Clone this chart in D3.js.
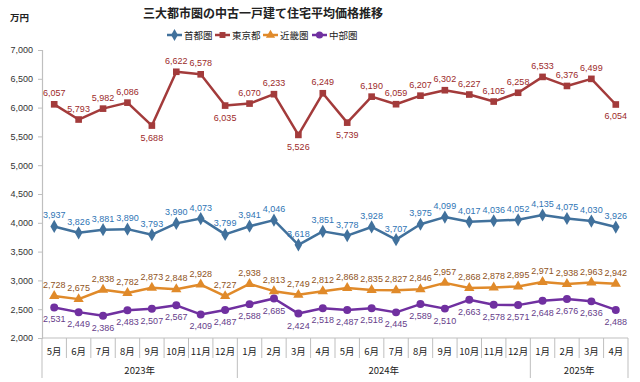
<!DOCTYPE html>
<html>
<head>
<meta charset="utf-8">
<script src="https://cdn.jsdelivr.net/npm/d3@7"></script>
<style>
  body { margin: 0; background: #fff; }
  svg { font-family: "Noto Sans CJK JP", "Liberation Sans", sans-serif; }
</style>
</head>
<body>
<svg id="chart" width="640" height="382"></svg>
<script>
var months = ["5月","6月","7月","8月","9月","10月","11月","12月",
  "1月","2月","3月","4月","5月","6月","7月","8月","9月","10月","11月","12月",
  "1月","2月","3月","4月"];
var years = [
  { label: "2023年", start: 0, count: 8 },
  { label: "2024年", start: 8, count: 12 },
  { label: "2025年", start: 20, count: 4 }
];
var shutoken = [3937,3826,3881,3890,3793,3990,4073,3799,3941,4046,3618,3851,3778,3928,3707,3975,4099,4017,4036,4052,4135,4075,4030,3926];
var tokyo = [6057,5793,5982,6086,5688,6622,6578,6035,6070,6233,5526,6249,5739,6190,6059,6207,6302,6227,6105,6258,6533,6376,6499,6054];
var kinki = [2728,2675,2838,2782,2873,2848,2928,2727,2938,2813,2749,2812,2868,2835,2827,2846,2957,2868,2878,2895,2971,2938,2963,2942];
var chubu = [2531,2449,2386,2483,2507,2567,2409,2487,2588,2685,2424,2518,2487,2518,2445,2589,2510,2663,2578,2571,2648,2676,2636,2488];
var yTicks = [2000,2500,3000,3500,4000,4500,5000,5500,6000,6500,7000];
// tokyo points whose label sits under the marker
var tokyoBelow = [4, 7, 10, 12, 23];

var series = [
  { name: "首都圏", values: shutoken, color: "#41719c", label: "#2f75b5", symbol: d3.symbolDiamond, size: 50, pos: "above" },
  { name: "東京都", values: tokyo, color: "#a33b3b", label: "#9c2a2a", symbol: d3.symbolSquare, size: 44, pos: "tokyo" },
  { name: "近畿圏", values: kinki, color: "#e08a2a", label: "#8f531c", symbol: d3.symbolTriangle, size: 46, pos: "above" },
  { name: "中部圏", values: chubu, color: "#7030a0", label: "#663d8a", symbol: d3.symbolCircle, size: 50, pos: "below" }
];

var svg = d3.select("#chart");
var plotLeft = 42, plotRight = 628, plotTop = 50, plotBottom = 338;

var x = d3.scaleBand().domain(d3.range(months.length)).range([plotLeft, plotRight]);
var y = d3.scaleLinear().domain([2000, 7000]).range([plotBottom, plotTop]);
var fmt = d3.format(",");

// title and unit
svg.append("text").attr("x", 263).attr("y", 18).attr("text-anchor", "middle")
  .attr("font-size", 12).attr("font-weight", "bold").attr("fill", "#222")
  .text("三大都市圏の中古一戸建て住宅平均価格推移");
svg.append("text").attr("x", 10).attr("y", 21)
  .attr("font-size", 9.5).attr("font-weight", "bold").attr("fill", "#222").text("万円");

// legend
var legendX = [167, 215, 263, 312];
var lg = svg.selectAll(".legend").data(series).enter().append("g")
  .attr("transform", function (d, i) { return "translate(" + legendX[i] + ",35)"; });
lg.append("line").attr("x1", 0).attr("x2", 15)
  .attr("stroke", function (d) { return d.color; }).attr("stroke-width", 2.5);
lg.append("path").attr("transform", "translate(7.5,0)")
  .attr("d", function (d) { return d3.symbol().type(d.symbol).size(d.size * 0.8)(); })
  .attr("fill", function (d) { return d.color; });
lg.append("text").attr("x", 17).attr("y", 3.5).attr("font-size", 9.5).attr("fill", "#222")
  .text(function (d) { return d.name; });

// y axis
var yAxis = svg.append("g").attr("transform", "translate(" + plotLeft + ",0)")
  .call(d3.axisLeft(y).tickValues(yTicks).tickSize(4).tickPadding(5).tickFormat(fmt));
yAxis.select(".domain").attr("stroke", "#bfbfbf").attr("stroke-width", 1.2);
yAxis.selectAll(".tick line").attr("stroke", "#bfbfbf");
yAxis.selectAll("text").attr("font-size", 9).attr("fill", "#333")
  .attr("font-family", "Liberation Sans, sans-serif");

// x axis: month band boundaries and year groups
svg.append("line").attr("x1", plotLeft).attr("x2", plotRight).attr("y1", plotBottom).attr("y2", plotBottom)
  .attr("stroke", "#bfbfbf").attr("stroke-width", 1.2);
var bounds = d3.range(months.length + 1);
var yearEdges = years.map(function (d) { return d.start; }).concat([months.length]);
svg.selectAll(".sep").data(bounds).enter().append("line")
  .attr("x1", function (i) { return plotLeft + i * x.bandwidth(); })
  .attr("x2", function (i) { return plotLeft + i * x.bandwidth(); })
  .attr("y1", plotBottom)
  .attr("y2", function (i) { return yearEdges.indexOf(i) >= 0 ? 378 : 358; })
  .attr("stroke", "#bfbfbf").attr("stroke-width", 1);
svg.selectAll(".mlab").data(months).enter().append("text")
  .attr("x", function (d, i) { return x(i) + x.bandwidth() / 2; })
  .attr("y", 355).attr("text-anchor", "middle").attr("font-size", 9.5).attr("fill", "#222")
  .text(function (d) { return d; });
svg.selectAll(".ylab").data(years).enter().append("text")
  .attr("x", function (d) { return plotLeft + (d.start + d.count / 2) * x.bandwidth(); })
  .attr("y", 374).attr("text-anchor", "middle").attr("font-size", 9.5).attr("fill", "#222")
  .text(function (d) { return d.label; });

// lines, markers, labels
var line = d3.line()
  .x(function (d, i) { return x(i) + x.bandwidth() / 2; })
  .y(function (d) { return y(d); });

series.forEach(function (s) {
  var g = svg.append("g");
  g.append("path").datum(s.values).attr("d", line)
    .attr("fill", "none").attr("stroke", s.color).attr("stroke-width", 2.5)
    .attr("stroke-linejoin", "round");
  g.selectAll("path.m").data(s.values).enter().append("path").attr("class", "m")
    .attr("transform", function (d, i) { return "translate(" + (x(i) + x.bandwidth() / 2) + "," + y(d) + ")"; })
    .attr("d", d3.symbol().type(s.symbol).size(s.size)())
    .attr("fill", s.color);
  g.selectAll("text").data(s.values).enter().append("text")
    .attr("x", function (d, i) { return x(i) + x.bandwidth() / 2; })
    .attr("y", function (d, i) {
      var below = s.pos === "below" || (s.pos === "tokyo" && tokyoBelow.indexOf(i) >= 0);
      return below ? y(d) + 15 : y(d) - 8;
    })
    .attr("text-anchor", "middle").attr("font-size", 9).attr("fill", s.label)
    .attr("font-family", "Liberation Sans, sans-serif")
    .text(function (d) { return fmt(d); });
});
</script>
</body>
</html>
